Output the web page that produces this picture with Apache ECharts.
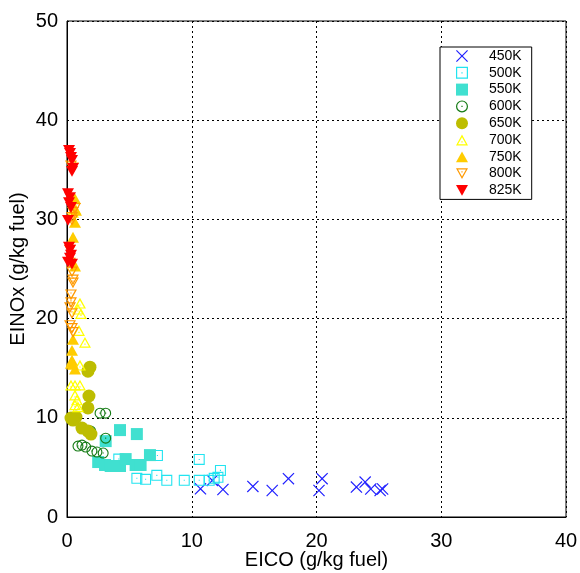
<!DOCTYPE html>
<html>
<head>
<meta charset="utf-8">
<script src="https://cdn.jsdelivr.net/npm/echarts@6/dist/echarts.min.js"></script>
<style>
  html, body { margin: 0; padding: 0; background: #fff; }
  #main { width: 580px; height: 573px; }
</style>
</head>
<body>
<div id="main"></div>
<script>
  // 数据 [EICO, EINOx]
  const k450 = [[10.7, 2.84], [11.65, 3.69], [12.5, 2.77], [14.9, 3.08], [16.45, 2.67], [17.75, 3.86],
    [20.2, 2.67], [20.45, 3.86], [23.2, 3.02], [23.9, 3.52], [24.35, 2.82], [25.1, 2.67], [25.3, 2.82]];
  const k500 = [[4.15, 5.84], [7.25, 6.2], [5.6, 3.9], [6.3, 3.8], [7.2, 4.2], [8.0, 3.7], [9.4, 3.7],
    [10.6, 3.7], [10.6, 5.8], [11.4, 3.7], [11.8, 3.9], [12.1, 4.0], [12.3, 4.7]];
  const k550 = [[4.25, 8.76], [5.6, 8.36], [3.1, 7.65], [2.5, 5.54], [3.05, 5.24], [3.5, 5.14],
    [4.25, 5.14], [4.7, 5.84], [5.5, 5.24], [5.9, 5.24], [6.65, 6.24]];
  const k600 = [[2.65, 10.47], [3.1, 10.47], [1.9, 8.66], [3.1, 7.95], [0.88, 7.15], [1.2, 7.25],
    [1.5, 7.05], [2.0, 6.65], [2.4, 6.55], [2.9, 6.45]];
  const k650 = [[1.84, 15.1], [1.68, 14.7], [1.76, 12.2], [1.68, 11.0], [0.72, 10.07], [0.48, 9.77],
    [0.32, 9.97], [1.2, 8.96], [1.68, 8.66], [1.92, 8.36]];
  const k700 = [[1.04, 21.55], [0.88, 20.95], [1.12, 20.5], [0.96, 18.8], [1.44, 17.6], [0.32, 13.3],
    [0.64, 13.3], [1.04, 13.3], [0.64, 12.3], [0.8, 11.8], [0.64, 11.3], [0.88, 11.1], [1.04, 15.3],
    [0.64, 31.1], [0.48, 30.7]];
  const k750 = [[0.64, 32.1], [0.72, 30.9], [0.64, 29.7], [0.48, 28.2], [0.64, 25.3], [0.48, 17.9],
    [0.4, 16.8], [0.4, 15.8], [0.48, 15.4], [0.64, 14.9], [0.32, 15.5]];
  const k800 = [[0.32, 35.4], [0.48, 35.2], [0.64, 31.1], [0.48, 30.7], [0.4, 30.2], [0.4, 29.9],
    [0.24, 26.9], [0.24, 25.6], [0.4, 24.7], [0.48, 23.9], [0.48, 23.6], [0.32, 22.4], [0.32, 21.6],
    [0.24, 21.1], [0.4, 20.5], [0.24, 19.3], [0.4, 19.0], [0.48, 18.6]];
  const k825 = [[0.16, 36.96], [0.24, 36.66], [0.32, 36.25], [0.4, 35.95], [0.48, 35.15], [0.4, 34.84],
    [0.08, 32.6], [0.24, 32.2], [0.16, 31.7], [0.32, 31.2], [0.08, 29.9], [0.16, 27.2], [0.24, 26.9],
    [0.32, 26.4], [0.24, 26.1], [0.08, 25.7], [0.4, 25.5]];
  const seriesNames = ['450K', '500K', '550K', '600K', '650K', '700K', '750K', '800K', '825K'];
  const xTicks = [0, 10, 20, 30, 40];
  const yTicks = [0, 10, 20, 30, 40, 50];

  // 标记形状
  const SYM_X = 'path://M0 1.4L1.4 0L10 8.6L18.6 0L20 1.4L11.4 10L20 18.6L18.6 20L10 11.4L1.4 20L0 18.6L8.6 10Z';
  const SYM_OSQ = 'path://M0 0H20V20H0Z M2 2V18H18V2Z M9 9H11V11H9Z';
  const SYM_OCIR = 'path://M10 0A10 10 0 1 1 10 20A10 10 0 1 1 10 0Z M10 2A8 8 0 1 0 10 18A8 8 0 1 0 10 2Z M9 9H11V11H9Z';
  const SYM_OTRI = 'path://M10 0L20 18L0 18Z M10 4.3L3.4 16L16.6 16Z M9 11H11V13H9Z';
  const SYM_TRI = 'path://M10 0L20 18L0 18Z';
  const SYM_OTRID = 'path://M0 0L20 0L10 18Z M3.4 2L10 13.7L16.6 2Z M9 5H11V7H9Z';
  const SYM_TRID = 'path://M0 0L20 0L10 18Z';

  let myChart = echarts.init(document.getElementById('main'));
  const font = 'Liberation Sans, Arial, sans-serif';

  function sc(name, data, symbol, size, color) {
    return {
      type: 'scatter',
      name: name,
      data: data,
      symbol: symbol,
      symbolSize: size,
      symbolKeepAspect: true,
      itemStyle: { color: color, opacity: 1 },
      emphasis: { disabled: true }
    };
  }

  let option = {
    animation: false,
    backgroundColor: '#ffffff',
    grid: {
      left: 67, right: 14, top: 21, bottom: 56,
      outerBoundsMode: 'none', containLabel: false,
      show: true, borderColor: '#000', borderWidth: 1, backgroundColor: 'transparent'
    },
    legend: {
      orient: 'vertical',
      left: 440, top: 47,
      padding: [2, 10, 2, 16],
      itemWidth: 12, itemHeight: 12, itemGap: 2.8,
      borderColor: '#000', borderWidth: 1, backgroundColor: '#fff',
      textStyle: { fontFamily: font, fontSize: 14, color: '#000', padding: [0, 0, 0, 16] },
      data: seriesNames
    },
    xAxis: {
      type: 'value', min: xTicks[0], max: xTicks[xTicks.length - 1], interval: 10,
      name: 'EICO (g/kg fuel)', nameLocation: 'middle', nameGap: 33, nameMoveOverlap: false,
      nameTextStyle: { fontFamily: font, fontSize: 20, color: '#000' },
      axisLine: { show: true, lineStyle: { color: '#000', width: 1 } },
      axisTick: { show: false },
      axisLabel: { fontFamily: font, fontSize: 20, color: '#000', margin: 14 },
      splitLine: { show: true, lineStyle: { color: '#000', type: [2, 3], width: 1 } }
    },
    yAxis: {
      type: 'value', min: yTicks[0], max: yTicks[yTicks.length - 1], interval: 10,
      name: 'EINOx (g/kg fuel)', nameLocation: 'middle', nameGap: 39, nameMoveOverlap: false,
      nameTextStyle: { fontFamily: font, fontSize: 20, color: '#000' },
      axisLine: { show: true, lineStyle: { color: '#000', width: 1 } },
      axisTick: { show: false },
      axisLabel: { fontFamily: font, fontSize: 20, color: '#000', margin: 9 },
      splitLine: { show: true, lineStyle: { color: '#000', type: [2, 3], width: 1 } }
    },
    series: [
      sc('450K', k450, SYM_X, 12, '#1f1fff'),
      sc('500K', k500, SYM_OSQ, 11, '#22e4f0'),
      sc('550K', k550, 'rect', 12, '#40e0d0'),
      sc('600K', k600, SYM_OCIR, 11, '#137a13'),
      sc('650K', k650, 'circle', 13, '#bdbd00'),
      sc('700K', k700, SYM_OTRI, 12, '#ffff00'),
      sc('750K', k750, SYM_TRI, 12, '#ffcc00'),
      sc('800K', k800, SYM_OTRID, 12, '#ff9900'),
      sc('825K', k825, SYM_TRID, 12, '#ff0000')
    ]
  };
  myChart.setOption(option);
</script>
</body>
</html>
